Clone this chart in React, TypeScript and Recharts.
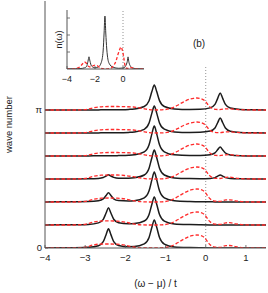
import { LineChart, Line, XAxis, YAxis, ReferenceLine } from 'recharts'

const FONT = '"Liberation Sans", Arial, Helvetica, sans-serif'
const FRAME = '#555'
const INK = '#1c1c1c'
const RED = '#ff2b2b'
const TXT = '#222'

// spacing between the stacked wave-number spectra (same units as the curves)
const GAP = 23

const X_TICKS = [-4, -3, -2, -1, 0, 1]
const Y_TICKS = [0, 23, 46, 69, 92, 115, 138]
const INSET_X_TICKS = [-4, -2, 0]
const INSET_Y_TICKS = [1.7, 3.4, 5.1]

// black: full spectral function, bottom (k = 0) to top (k = pi)
const BLACK_X = [-4, -3.4, -2.92, -2.67, -2.55, -2.48, -2.42, -2.36, -2.29, -2.17, -1.92, -1.78, -1.53, -1.41, -1.34, -1.28, -1.22, -1.15, -1.03, -0.78, -0.4, -0.14, 0.11, 0.23, 0.3, 0.36, 0.42, 0.49, 0.61, 0.86, 1.2, 1.5]
const black0 = [0.1, 0.2, 0.7, 2.3, 6.3, 13.3, 19.2, 13.4, 6.4, 2.5, 1.3, 1.4, 4.1, 10.6, 20.7, 28.1, 20.7, 10.5, 3.9, 1.1, 0.4, 0.2, 0.1, 0.1, 0.1, 0.1, 0.1, 0.1, 0.1, 0.1, 0, 0]
const black1 = [0.1, 0.2, 0.6, 2.1, 5.7, 12.0, 17.2, 12.0, 5.8, 2.3, 1.2, 1.4, 4.0, 10.6, 20.7, 28.1, 20.7, 10.5, 3.9, 1.1, 0.4, 0.2, 0.1, 0.1, 0.1, 0.1, 0.1, 0.1, 0.1, 0.1, 0, 0]
const black2 = [0.1, 0.2, 0.4, 1.2, 3.1, 6.4, 9.2, 6.5, 3.2, 1.4, 1.0, 1.3, 4.2, 11.2, 22.1, 30.1, 22.1, 11.2, 4.2, 1.2, 0.4, 0.2, 0.2, 0.1, 0.1, 0.1, 0.1, 0.1, 0.1, 0.1, 0, 0]
const black3 = [0.0, 0.1, 0.2, 0.6, 1.5, 3.0, 4.2, 3.0, 1.6, 0.8, 0.8, 1.2, 4.0, 10.8, 21.3, 29.0, 21.3, 10.8, 4.0, 1.1, 0.4, 0.3, 0.6, 1.4, 2.9, 4.1, 2.9, 1.4, 0.5, 0.2, 0.1, 0.0]
const black4 = [0.0, 0.1, 0.1, 0.2, 0.2, 0.2, 0.2, 0.3, 0.3, 0.4, 0.7, 1.2, 4.1, 11.2, 22.1, 30.0, 22.1, 11.2, 4.2, 1.2, 0.5, 0.5, 1.2, 3.1, 6.4, 9.1, 6.3, 3.0, 1.1, 0.3, 0.1, 0.1]
const black5 = [0.0, 0.1, 0.1, 0.1, 0.2, 0.2, 0.2, 0.2, 0.3, 0.3, 0.6, 1.0, 3.7, 10.0, 19.9, 27.0, 19.9, 10.1, 3.8, 1.1, 0.6, 0.7, 1.9, 5.0, 10.5, 15.1, 10.5, 5.0, 1.8, 0.5, 0.2, 0.1]
const black6 = [0.0, 0.1, 0.1, 0.1, 0.2, 0.2, 0.2, 0.2, 0.2, 0.3, 0.6, 1.0, 3.5, 9.3, 18.4, 25.0, 18.4, 9.4, 3.5, 1.1, 0.6, 0.7, 2.1, 5.6, 11.9, 17.1, 11.9, 5.6, 2.0, 0.6, 0.2, 0.1]

// red dashed: second component
const RED_X = [-4, -3.3, -3.0, -2.8, -2.6, -2.4, -2.2, -2.0, -1.8, -1.6, -1.4, -1.2, -1.0, -0.85, -0.7, -0.55, -0.4, -0.3, -0.22, -0.12, -0.02, 0.08, 0.2, 0.35, 0.5, 0.6, 0.75, 0.95, 1.2, 1.5]
const red0 = [0, 0, 0.8, 3.0, 4.0, 4.0, 3.8, 2.8, 1.0, 0.2, 0, 0, 0.5, 2.0, 5.2, 8.8, 11.7, 12.7, 13.0, 12.4, 10.0, 4.4, 1.1, 0.6, 2.4, 2.5, 1.3, 0.3, 0, 0]
const red1 = [0, 0, 0.7, 2.9, 4.0, 4.1, 3.8, 2.9, 1.1, 0.2, 0, 0, 0.5, 2.0, 5.2, 8.8, 11.7, 12.7, 13.0, 12.4, 10.0, 4.4, 1.1, 0.6, 2.2, 2.3, 1.2, 0.3, 0, 0]
const red2 = [0, 0, 0.6, 2.7, 3.8, 4.0, 3.8, 3.0, 1.3, 0.3, 0, 0, 0.5, 2.0, 5.2, 8.8, 11.7, 12.7, 13.0, 12.4, 10.0, 4.4, 1.1, 0.6, 2.1, 2.2, 1.1, 0.3, 0, 0]
const red3 = [0, 0, 0.5, 2.6, 3.8, 4.0, 4.0, 3.4, 2.3, 0.8, 0.1, 0, 0.5, 1.8, 4.8, 8.2, 10.8, 11.7, 12.0, 11.4, 9.2, 4.0, 1.0, 0.5, 1.7, 1.8, 0.9, 0.2, 0, 0]
const red4 = [0, 0, 0.4, 2.1, 3.2, 3.5, 3.5, 3.3, 3.0, 1.8, 0.4, 0, 0.5, 1.8, 4.8, 8.2, 10.8, 11.7, 12.0, 11.4, 9.2, 4.0, 1.0, 0.4, 1.2, 1.3, 0.7, 0.2, 0, 0]
const red5 = [0, 0, 0.4, 2.1, 3.2, 3.5, 3.5, 3.3, 3.0, 1.8, 0.4, 0, 0.4, 1.6, 4.4, 7.5, 9.9, 10.7, 11.0, 10.5, 8.5, 3.7, 0.9, 0.4, 1.1, 1.2, 0.6, 0.2, 0, 0]
const red6 = [0, 0, 0.4, 2.1, 3.2, 3.5, 3.5, 3.3, 3.0, 1.8, 0.4, 0, 0.5, 1.8, 4.8, 8.2, 10.8, 11.7, 12.0, 11.4, 9.2, 4.0, 1.0, 0.4, 1.2, 1.2, 0.6, 0.2, 0, 0]

// inset: n(omega)
const INSET_BLACK_X = [-4, -3.4, -3.0, -2.75, -2.6, -2.5, -2.43, -2.36, -2.25, -2.0, -1.75, -1.55, -1.42, -1.35, -1.29, -1.23, -1.16, -1.0, -0.7, -0.3, 0.0, 0.15, 0.25, 0.31, 0.36, 0.41, 0.5, 0.7, 1.0, 1.5]
const INSET_BLACK_Y = [0.02, 0.03, 0.05, 0.12, 0.25, 0.78, 1.22, 0.79, 0.3, 0.12, 0.22, 0.66, 1.8, 3.6, 5.3, 3.6, 2.0, 0.58, 0.17, 0.07, 0.1, 0.22, 0.5, 0.77, 1.21, 0.77, 0.36, 0.09, 0.03, 0.01]
const INSET_RED_X = [-4, -3.4, -3.1, -2.9, -2.75, -2.6, -2.45, -2.3, -2.1, -1.95, -1.8, -1.6, -1.2, -0.9, -0.7, -0.5, -0.35, -0.22, -0.14, -0.05, 0.05, 0.15, 0.3, 0.5, 0.7, 1.0, 1.5]
const INSET_RED_Y = [0, 0.05, 0.2, 0.5, 0.7, 0.55, 0.25, 0.2, 0.35, 0.38, 0.3, 0.08, 0, 0.05, 0.3, 0.8, 1.5, 2.0, 2.2, 1.9, 1.2, 0.3, 0.05, 0.15, 0.1, 0, 0]

const blackTraces = [black0, black1, black2, black3, black4, black5, black6]
const redTraces = [red0, red1, red2, red3, red4, red5, red6]

const stack = (xs: number[], ys: number[], k: number) =>
  xs.map((x, i) => ({ x, y: k * GAP + ys[i] }))

const blackData = blackTraces.map((t, k) => stack(BLACK_X, t, k))
const redData = redTraces.map((t, k) => stack(RED_X, t, k))
const insetBlack = INSET_BLACK_X.map((x, i) => ({ x, y: INSET_BLACK_Y[i] }))
const insetRed = INSET_RED_X.map((x, i) => ({ x, y: INSET_RED_Y[i] }))

const fmt = (v: number) => (v < 0 ? `\u2212${Math.abs(v)}` : `${v}`)
const yLabel = (v: number) => (v === 0 ? '0' : v === 138 ? '\u03c0' : '')

// inward ticks, matlab style
function BottomTick({ x, y, payload, fontSize = 9.5, dy = 12.5, show = true }: any) {
  return (
    <g>
      <line x1={x} y1={y} x2={x} y2={y - 3} stroke={FRAME} strokeWidth={0.8} />
      {show && (
        <text x={x} y={y + dy} textAnchor="middle" fontSize={fontSize} fill={TXT}>
          {fmt(payload.value)}
        </text>
      )}
    </g>
  )
}

function TopTick({ x, y }: any) {
  return <line x1={x} y1={y} x2={x} y2={y + 3} stroke={FRAME} strokeWidth={0.8} />
}

function LeftTick({ x, y, payload, labels = true }: any) {
  return (
    <g>
      <line x1={x} y1={y} x2={x + 3} y2={y} stroke={FRAME} strokeWidth={0.8} />
      {labels && (
        <text x={x - 3} y={y} dy="0.35em" textAnchor="end" fontSize={9.5} fill={TXT}>
          {yLabel(payload.value)}
        </text>
      )}
    </g>
  )
}

function RightTick({ x, y }: any) {
  return <line x1={x} y1={y} x2={x - 3} y2={y} stroke={FRAME} strokeWidth={0.8} />
}

export default function App() {
  return (
    <div style={{ position: 'absolute', left: 0, top: 0, width: 268, height: 293, fontFamily: FONT }}>
      <LineChart width={268} height={293} margin={{ top: 1, right: 2, bottom: 1, left: 0 }}>
        <XAxis
          dataKey="x"
          type="number"
          domain={[-4, 1.5]}
          ticks={X_TICKS}
          allowDataOverflow
          interval={0}
          height={44}
          tickSize={0}
          tickMargin={0}
          tickLine={false}
          stroke={FRAME}
          tick={(p: any) => <BottomTick {...p} />}
          label={{ value: '(\u03c9 \u2212 \u03bc) / t', position: 'insideBottom', offset: 5, fill: TXT, fontSize: 10 }}
        />
        <XAxis
          xAxisId="top"
          orientation="top"
          dataKey="x"
          type="number"
          domain={[-4, 1.5]}
          ticks={X_TICKS}
          allowDataOverflow
          interval={0}
          height={0}
          tickSize={0}
          tickMargin={0}
          tickLine={false}
          stroke={FRAME}
          tick={(p: any) => <TopTick {...p} />}
        />
        <YAxis
          dataKey="y"
          type="number"
          domain={[0, 247]}
          ticks={Y_TICKS}
          allowDataOverflow
          interval={0}
          width={45}
          tickSize={0}
          tickMargin={0}
          tickLine={false}
          stroke={FRAME}
          tick={(p: any) => <LeftTick {...p} />}
          label={{ value: 'wave number', angle: -90, position: 'insideLeft', offset: 9, fill: TXT, fontSize: 9.5, style: { textAnchor: 'middle' } }}
        />
        <YAxis
          yAxisId="r"
          orientation="right"
          type="number"
          domain={[0, 247]}
          ticks={Y_TICKS}
          allowDataOverflow
          interval={0}
          width={0}
          tickSize={0}
          tickMargin={0}
          tickLine={false}
          stroke={FRAME}
          tick={(p: any) => <RightTick {...p} />}
        />
        <ReferenceLine
          segment={[{ x: 0, y: 0 }, { x: 0, y: 181 }]}
          stroke="#777"
          strokeWidth={0.8}
          strokeDasharray="1 2"
        />
        {blackData.map((d, k) => (
          <Line
            key={`b${k}`}
            data={d}
            dataKey="y"
            type="monotone"
            stroke={INK}
            strokeWidth={1.5}
            dot={false}
            activeDot={false}
            isAnimationActive={false}
          />
        ))}
        {redData.map((d, k) => (
          <Line
            key={`r${k}`}
            data={d}
            dataKey="y"
            type="monotone"
            stroke={RED}
            strokeWidth={1.3}
            strokeDasharray="3.5 2"
            dot={false}
            activeDot={false}
            isAnimationActive={false}
          />
        ))}
      </LineChart>

      <div style={{ position: 'absolute', left: 189, top: 37, width: 20, textAlign: 'center', fontSize: 10, lineHeight: '14px', color: TXT }}>
        (b)
      </div>

      {/* inset */}
      <div style={{ position: 'absolute', left: 0, top: 0 }}>
        <LineChart width={150} height={90} margin={{ top: 10, right: 6, bottom: 0, left: 0 }}>
          <XAxis
            dataKey="x"
            type="number"
            domain={[-4, 1.5]}
            ticks={INSET_X_TICKS}
            allowDataOverflow
            interval={0}
            height={21}
            tickSize={0}
            tickMargin={0}
            tickLine={false}
            stroke={FRAME}
            tick={(p: any) => <BottomTick {...p} fontSize={9} dy={13} />}
          />
          <XAxis
            xAxisId="top"
            orientation="top"
            dataKey="x"
            type="number"
            domain={[-4, 1.5]}
            ticks={INSET_X_TICKS}
            allowDataOverflow
            interval={0}
            height={0}
            tickSize={0}
            tickMargin={0}
            tickLine={false}
            stroke={FRAME}
            tick={(p: any) => <TopTick {...p} />}
          />
          <YAxis
            dataKey="y"
            type="number"
            domain={[0, 5.9]}
            ticks={INSET_Y_TICKS}
            allowDataOverflow
            interval={0}
            width={67}
            tickSize={0}
            tickMargin={0}
            tickLine={false}
            stroke={FRAME}
            tick={(p: any) => <LeftTick {...p} labels={false} />}
            label={{ value: 'n(\u03c9)', angle: -90, position: 'insideLeft', offset: 59, fill: TXT, fontSize: 9, style: { textAnchor: 'middle' } }}
          />
          <YAxis
            yAxisId="r"
            orientation="right"
            type="number"
            domain={[0, 5.9]}
            ticks={INSET_Y_TICKS}
            allowDataOverflow
            interval={0}
            width={0}
            tickSize={0}
            tickMargin={0}
            tickLine={false}
            stroke={FRAME}
            tick={(p: any) => <RightTick {...p} />}
          />
          <ReferenceLine x={0} stroke="#777" strokeWidth={0.8} strokeDasharray="1 2" />
          <Line
            data={insetBlack}
            dataKey="y"
            type="monotone"
            stroke="#333"
            strokeWidth={1}
            dot={false}
            activeDot={false}
            isAnimationActive={false}
          />
          <Line
            data={insetRed}
            dataKey="y"
            type="monotone"
            stroke={RED}
            strokeWidth={1.3}
            strokeDasharray="3 2"
            dot={false}
            activeDot={false}
            isAnimationActive={false}
          />
        </LineChart>
      </div>
    </div>
  )
}
